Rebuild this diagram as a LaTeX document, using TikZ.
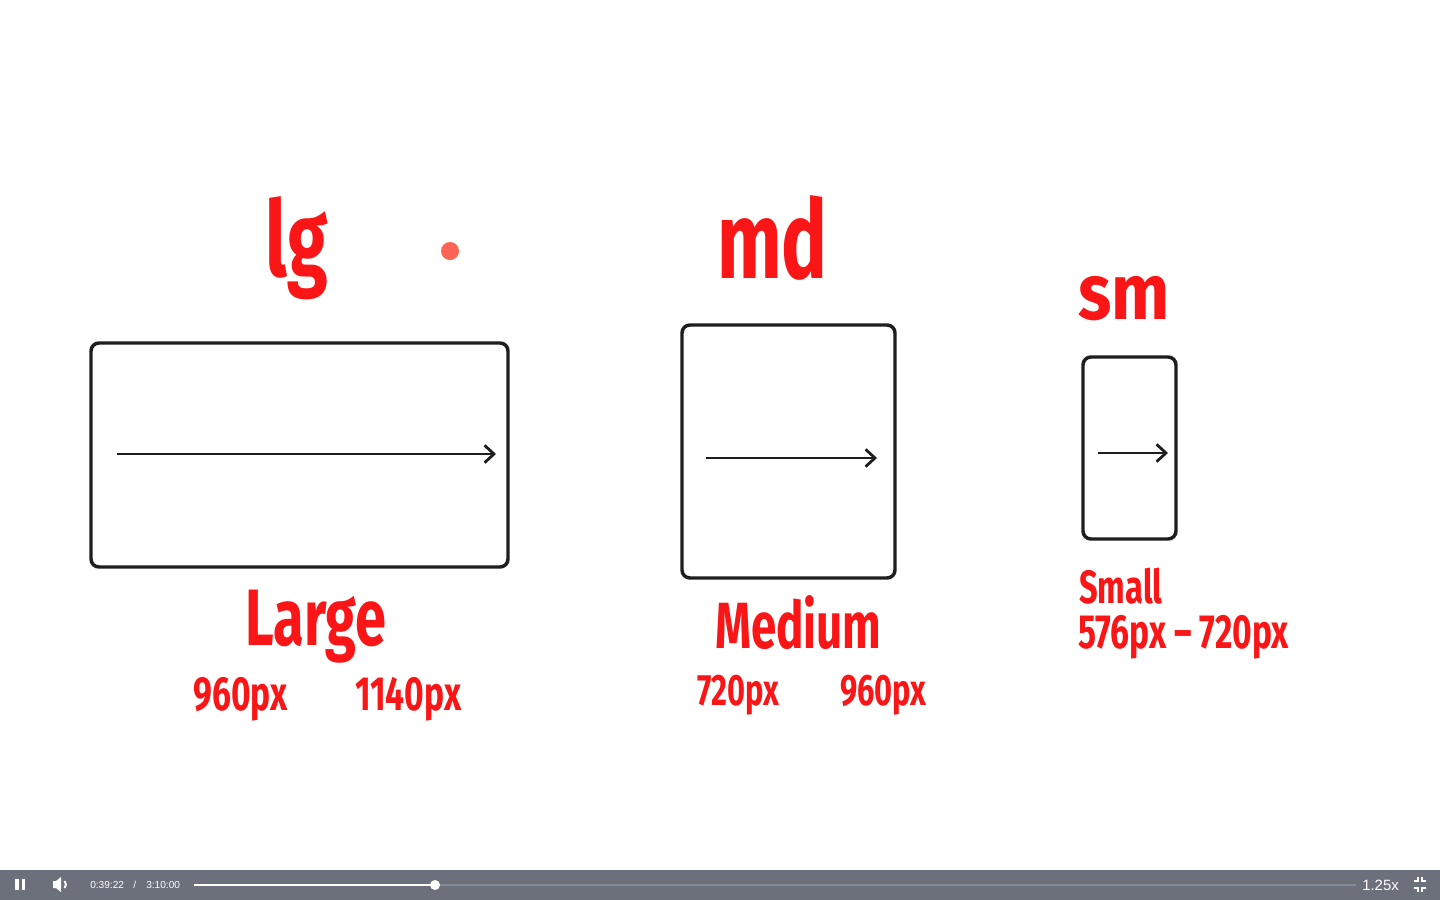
\documentclass[tikz,border=0pt]{standalone}
\usepackage{fontspec}
\usetikzlibrary{arrows.meta}
\newfontfamily\hand{Fira Sans}[FakeStretch=0.7]
\newfontfamily\uifont{Liberation Sans}
\definecolor{handred}{RGB}{250,22,22}
\definecolor{ink}{RGB}{30,30,30}
\definecolor{barbg}{RGB}{107,112,122}
\definecolor{track}{RGB}{128,138,155}
\definecolor{dotred}{RGB}{255,100,85}
\tikzset{
  frame/.style={draw=ink, line width=2.6pt, rounded corners=6pt, inner sep=0pt, fill=none},
  ruler/.style={draw=ink, line width=2.1pt, -{Straight Barb[length=7pt,width=13pt,line width=2.1pt]}},
  lbl/.style={text=handred, inner sep=0pt, anchor=base west, font=\hand\bfseries},
  ui/.style={text=white, inner sep=0pt, font=\uifont},
}
\begin{document}
\begin{tikzpicture}[x=0.75pt,y=-0.75pt]
\useasboundingbox (0,0) rectangle (1440,900);
\fill[white] (0,0) rectangle (1440,870);
% boxes
\node[frame, minimum width=312.75pt, minimum height=168pt] (lgbox) at (299.5,455) {};
\node[frame, minimum width=159.75pt, minimum height=189.75pt] (mdbox) at (788.5,451.5) {};
\node[frame, minimum width=69.75pt, minimum height=136.5pt] (smbox) at (1129.5,448) {};
% arrows
\coordinate (lga) at (117,454); \coordinate (lgb) at (496,454);
\coordinate (mda) at (706,458); \coordinate (mdb) at (877,458);
\coordinate (sma) at (1098,453); \coordinate (smb) at (1168,453);
\draw[ruler] (lga) -- (lgb);
\draw[ruler] (mda) -- (mdb);
\draw[ruler] (sma) -- (smb);
% dot
\fill[dotred] (450,251) circle (9);
% labels
\node[lbl, font=\hand\bfseries\fontsize{79}{86}\selectfont] (lgt) at (265,276) {lg};
\node[lbl, font=\hand\bfseries\fontsize{82}{88}\selectfont] (mdt) at (717,278) {md};
\node[lbl, font=\hand\bfseries\fontsize{59}{64}\selectfont] (smt) at (1078,319) {\scalebox{1.25}[1]{sm}};
\node[lbl, font=\hand\bfseries\fontsize{60}{66}\selectfont] (large) at (245,645) {Large};
\node[lbl, font=\hand\bfseries\fontsize{36}{40}\selectfont] (lgmin) at (193,710) {960px};
\node[lbl, font=\hand\bfseries\fontsize{36}{40}\selectfont] (lgmax) at (355,710) {1140px};
\node[lbl, font=\hand\bfseries\fontsize{49}{54}\selectfont] (medium) at (715,648) {Medium};
\node[lbl, font=\hand\bfseries\fontsize{33}{36}\selectfont] (mdmin) at (697,705) {720px};
\node[lbl, font=\hand\bfseries\fontsize{33}{36}\selectfont] (mdmax) at (840,705) {960px};
\node[lbl, font=\hand\bfseries\fontsize{35}{40}\selectfont] (small) at (1079,603) {Small};
\node[lbl, font=\hand\bfseries\fontsize{36}{40}\selectfont] (smrange) at (1078,648) {576px – 720px};
% control bar
\fill[barbg] (0,870) rectangle (1440,900);
\fill[white] (15,879) rectangle (18.5,890);
\fill[white] (21.5,879) rectangle (25,890);
\fill[white] (53,881) -- (56,881) -- (61,877) -- (61,892) -- (56,888) -- (53,888) -- cycle;
\draw[white, line width=1.4pt] (61,884.5) ++(-45:5) arc (-45:45:5);
\node[ui, anchor=base west, font=\uifont\fontsize{7.6}{9}\selectfont] (tcur) at (90,888) {0:39:22};
\node[ui, anchor=base west, font=\uifont\fontsize{7.6}{9}\selectfont] (tsep) at (133,888) {/};
\node[ui, anchor=base west, font=\uifont\fontsize{7.6}{9}\selectfont] (ttot) at (146,888) {3:10:00};
\coordinate (pstart) at (194,885); \coordinate (pnow) at (435,885); \coordinate (pend) at (1356,885);
\draw[track, line width=1.6pt] (pnow) -- (pend);
\draw[white, line width=1.6pt] (pstart) -- (pnow);
\fill[white] (pnow) circle (5);
\node[ui, anchor=base west, font=\uifont\fontsize{11.2}{12}\selectfont] (speed) at (1362,890) {1.25x};
\begin{scope}[white, line width=1.3pt]
\draw (1414,881) -- (1418,881) -- (1418,877);
\draw (1422,877) -- (1422,881) -- (1426,881);
\draw (1414,888) -- (1418,888) -- (1418,892);
\draw (1422,892) -- (1422,888) -- (1426,888);
\end{scope}
\end{tikzpicture}
\end{document}
